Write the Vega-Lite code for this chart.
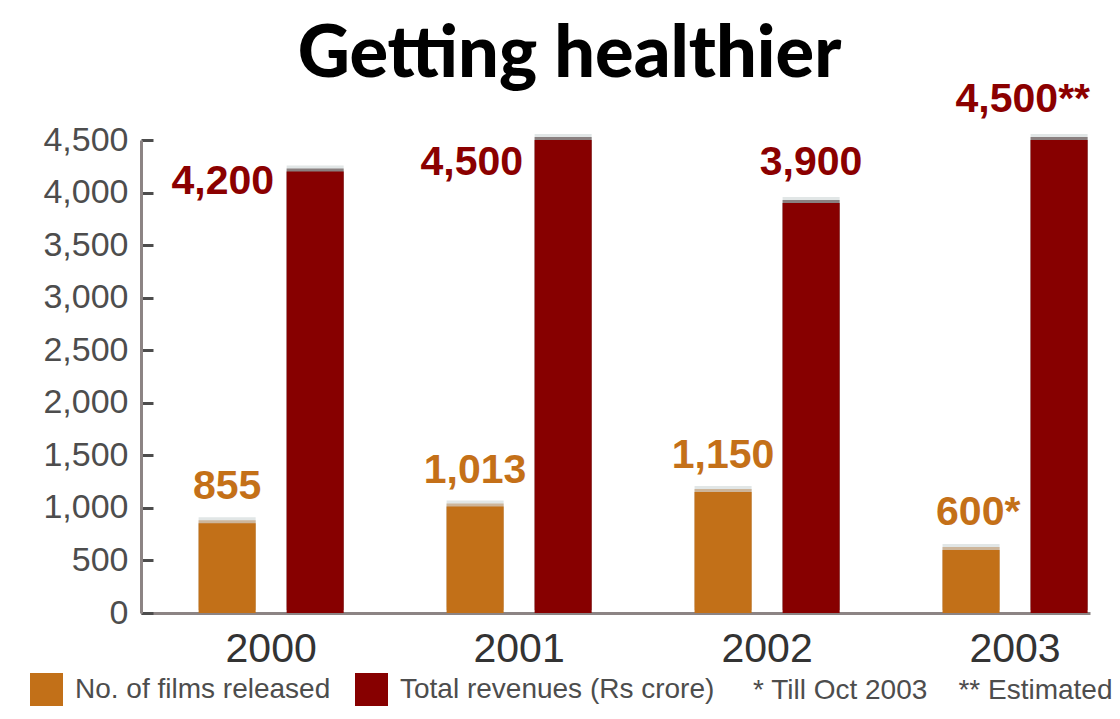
{
  "$schema": "https://vega.github.io/schema/vega-lite/v6.json",
  "autosize": {"type": "none"},
  "width": 949,
  "height": 473,
  "padding": {"left": 141, "top": 140, "right": 30, "bottom": 106},
  "background": "white",
  "title": {
    "text": "Getting healthier",
    "font": "Lato",
    "fontSize": 72,
    "fontWeight": 900,
    "color": "#000000",
    "anchor": "middle",
    "dx": -46,
    "dy": 70,
    "baseline": "alphabetic",
    "offset": 0
  },
  "data": {
    "values": [
      {"year": "2000", "series": "No. of films released", "value": 855, "label": "855"},
      {"year": "2000", "series": "Total revenues (Rs crore)", "value": 4200, "label": "4,200"},
      {"year": "2001", "series": "No. of films released", "value": 1013, "label": "1,013"},
      {"year": "2001", "series": "Total revenues (Rs crore)", "value": 4500, "label": "4,500"},
      {"year": "2002", "series": "No. of films released", "value": 1150, "label": "1,150"},
      {"year": "2002", "series": "Total revenues (Rs crore)", "value": 3900, "label": "3,900"},
      {"year": "2003", "series": "No. of films released", "value": 600, "label": "600*"},
      {"year": "2003", "series": "Total revenues (Rs crore)", "value": 4500, "label": "4,500**"}
    ]
  },
  "encoding": {
    "x": {
      "field": "year",
      "type": "nominal",
      "scale": {"paddingInner": 0.415, "paddingOuter": 0.121, "align": 0.96},
      "axis": {
        "labelAngle": 0,
        "ticks": false,
        "domainColor": "#8c8484",
        "domainWidth": 3,
        "labelFont": "Liberation Sans",
        "labelFontSize": 41,
        "labelColor": "#333333",
        "labelPadding": 16,
        "title": "* Till Oct 2003\u00a0\u00a0\u00a0\u00a0** Estimated",
        "titleFont": "Liberation Sans",
        "titleFontSize": 28,
        "titleFontWeight": "normal",
        "titleColor": "#4d4d4d",
        "titleX": 971,
        "titleY": 77,
        "titleAlign": "right",
        "titleBaseline": "middle"
      }
    },
    "xOffset": {
      "field": "series",
      "type": "nominal",
      "scale": {"paddingInner": 0.352, "paddingOuter": 0}
    },
    "y": {
      "field": "value",
      "type": "quantitative",
      "scale": {"domain": [0, 4500], "nice": false},
      "axis": {
        "values": [0, 500, 1000, 1500, 2000, 2500, 3000, 3500, 4000, 4500],
        "format": ",d",
        "grid": false,
        "title": null,
        "domainColor": "#8c8484",
        "domainWidth": 3,
        "tickColor": "#4d4d4d",
        "tickWidth": 3,
        "tickSize": -12,
        "labelPadding": 25,
        "labelFont": "Liberation Sans",
        "labelFontSize": 34,
        "labelColor": "#4d4d4d"
      }
    }
  },
  "layer": [
    {"mark": {"type": "bar", "color": "#e1e6e6", "xOffset": 7, "yOffset": -6}},
    {
      "mark": {"type": "bar", "xOffset": 3, "yOffset": -3},
      "encoding": {
        "color": {
          "condition": {"test": "datum.series === 'No. of films released'", "value": "#cdb59a"},
          "value": "#8a8080"
        }
      }
    },
    {
      "mark": {"type": "bar"},
      "encoding": {
        "color": {
          "field": "series",
          "type": "nominal",
          "scale": {
            "domain": ["No. of films released", "Total revenues (Rs crore)"],
            "range": ["#c27018", "#870000"]
          },
          "legend": {
            "orient": "none",
            "legendX": -111,
            "legendY": 533,
            "direction": "horizontal",
            "title": null,
            "symbolType": "square",
            "symbolSize": 1089,
            "symbolStrokeWidth": 0,
            "symbolOpacity": 1,
            "labelFont": "Liberation Sans",
            "labelFontSize": 28,
            "labelColor": "#4d4d4d",
            "labelOffset": 12,
            "columnPadding": 24,
            "labelLimit": 0,
            "padding": 0
          }
        }
      }
    },
    {
      "transform": [{"filter": "datum.series === 'No. of films released' && datum.year !== '2003'"}],
      "mark": {"type": "text", "align": "center", "baseline": "alphabetic", "dy": -24, "color": "#c47018", "font": "Liberation Sans", "fontWeight": "bold", "fontSize": 41},
      "encoding": {"text": {"field": "label"}}
    },
    {
      "transform": [{"filter": "datum.series === 'No. of films released' && datum.year === '2003'"}],
      "mark": {"type": "text", "align": "left", "baseline": "alphabetic", "dx": -35, "dy": -25, "color": "#c47018", "font": "Liberation Sans", "fontWeight": "bold", "fontSize": 41},
      "encoding": {"text": {"field": "label"}}
    },
    {
      "transform": [{"filter": "datum.series === 'Total revenues (Rs crore)' && datum.year === '2000'"}],
      "mark": {"type": "text", "align": "right", "baseline": "alphabetic", "dx": -41, "dy": 22, "color": "#8b0000", "font": "Liberation Sans", "fontWeight": "bold", "fontSize": 41},
      "encoding": {"text": {"field": "label"}}
    },
    {
      "transform": [{"filter": "datum.series === 'Total revenues (Rs crore)' && datum.year === '2001'"}],
      "mark": {"type": "text", "align": "right", "baseline": "alphabetic", "dx": -40, "dy": 35, "color": "#8b0000", "font": "Liberation Sans", "fontWeight": "bold", "fontSize": 41},
      "encoding": {"text": {"field": "label"}}
    },
    {
      "transform": [{"filter": "datum.series === 'Total revenues (Rs crore)' && datum.year === '2002'"}],
      "mark": {"type": "text", "align": "center", "baseline": "alphabetic", "dy": -28, "color": "#8b0000", "font": "Liberation Sans", "fontWeight": "bold", "fontSize": 41},
      "encoding": {"text": {"field": "label"}}
    },
    {
      "transform": [{"filter": "datum.series === 'Total revenues (Rs crore)' && datum.year === '2003'"}],
      "mark": {"type": "text", "align": "right", "baseline": "alphabetic", "dx": 31, "dy": -28, "color": "#8b0000", "font": "Liberation Sans", "fontWeight": "bold", "fontSize": 41},
      "encoding": {"text": {"field": "label"}}
    }
  ],
  "config": {
    "view": {"stroke": null}
  }
}
